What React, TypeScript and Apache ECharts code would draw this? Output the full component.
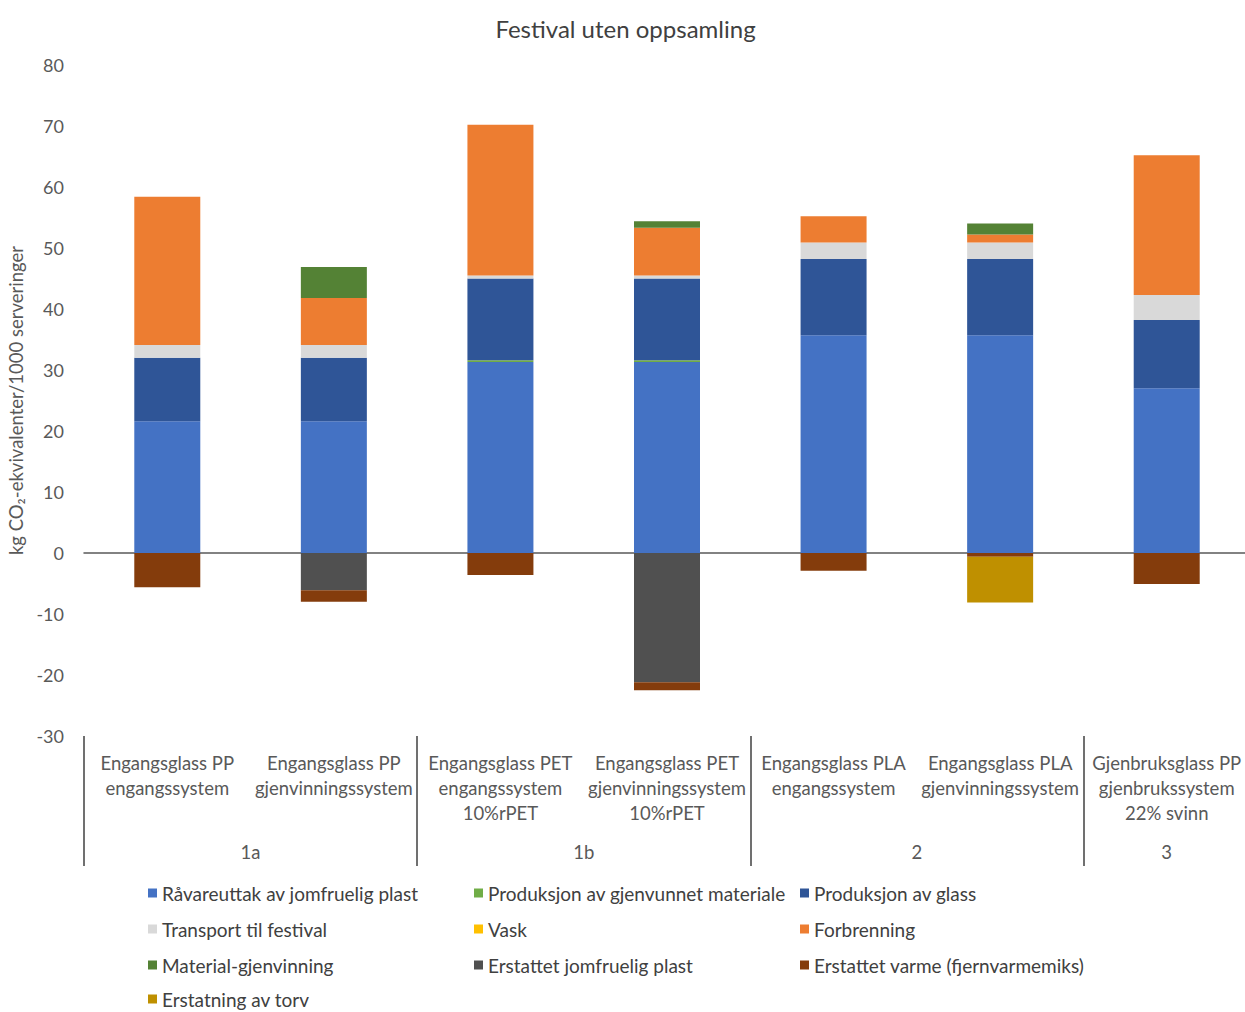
import React, { useEffect, useRef } from "react";
import * as echarts from "echarts";

// Scenario columns (x categories)
const categories = [
  "Engangsglass PP\nengangssystem",
  "Engangsglass PP\ngjenvinningssystem",
  "Engangsglass PET\nengangssystem\n10%rPET",
  "Engangsglass PET\ngjenvinningssystem\n10%rPET",
  "Engangsglass PLA\nengangssystem",
  "Engangsglass PLA\ngjenvinningssystem",
  "Gjenbruksglass PP\ngjenbrukssystem\n22% svinn",
];

// Scenario groups: label position (in category units) and separators
const groupLabels = ["1a", "1b", "2", "3"];
const groupCenters = [1, 3, 5, 6.5];
const groupSeparators = [0, 2, 4, 6];

// y-axis ticks
const yTicks = [-30, -20, -10, 0, 10, 20, 30, 40, 50, 60, 70, 80];

// Contributions, kg CO2-ekv. per 1000 serveringer
const raavareuttak = [21.6, 21.6, 31.3, 31.3, 35.7, 35.7, 27.0];
const produksjonGjenvunnet = [0, 0, 0.3, 0.3, 0, 0, 0];
const produksjonGlass = [10.4, 10.4, 13.4, 13.4, 12.5, 12.5, 11.2];
const transport = [2.1, 2.1, 0.5, 0.5, 2.7, 2.7, 4.1];
const vask = [0, 0, 0, 0, 0, 0, 0];
const forbrenning = [24.3, 7.7, 24.7, 7.8, 4.3, 1.3, 22.9];
const materialGjenvinning = [0, 5.1, 0, 1.1, 0, 1.8, 0];
const erstattetPlast = [0, -6.1, 0, -21.2, 0, 0, 0];
const erstattetVarme = [-5.6, -1.9, -3.6, -1.3, -2.9, -0.6, -5.1];
const erstatningTorv = [0, 0, 0, 0, 0, -7.5, 0];

const FONT = "Lato, 'Open Sans', sans-serif";
const TEXT = "#595959";

const seriesDefs = [
  { name: "Råvareuttak av jomfruelig plast", data: raavareuttak, color: "#4472C4" },
  { name: "Produksjon av gjenvunnet materiale", data: produksjonGjenvunnet, color: "#70AD47" },
  { name: "Produksjon av glass", data: produksjonGlass, color: "#2F5597" },
  { name: "Transport til festival", data: transport, color: "#D9D9D9" },
  { name: "Vask", data: vask, color: "#FFC000" },
  { name: "Forbrenning", data: forbrenning, color: "#ED7D31" },
  { name: "Material-gjenvinning", data: materialGjenvinning, color: "#548235" },
  { name: "Erstattet jomfruelig plast", data: erstattetPlast, color: "#505050" },
  { name: "Erstattet varme (fjernvarmemiks)", data: erstattetVarme, color: "#843C0C" },
  { name: "Erstatning av torv", data: erstatningTorv, color: "#BF9000" },
];

// Legend blocks: three columns plus the last row near the bottom edge
const legendBlocks = [
  { left: 143, top: 878, items: [0, 3, 6] },
  { left: 469, top: 878, items: [1, 4, 7] },
  { left: 795, top: 878, items: [2, 5, 8] },
  { left: 143, top: 984, items: [9] },
];

export default function App() {
  const ref = useRef<HTMLDivElement>(null);

  useEffect(() => {
    if (!ref.current) return;
    const chart = echarts.init(ref.current, undefined, { renderer: "svg" });

    const legendText = { fontFamily: FONT, fontSize: 19, color: "#404040", lineHeight: 20 };

    chart.setOption({
      animation: false,
      backgroundColor: "#ffffff",
      textStyle: { fontFamily: FONT },
      title: {
        text: "Festival uten oppsamling",
        left: "center",
        top: 11,
        textStyle: { fontFamily: FONT, fontSize: 24, fontWeight: "normal", color: "#404040" },
      },
      grid: {
        left: 84,
        top: 65,
        width: 1166,
        height: 671,
        containLabel: false,
        outerBoundsMode: "none",
      },
      legend: legendBlocks.map((b) => ({
        orient: "vertical",
        left: b.left,
        top: b.top,
        height: 200,
        itemWidth: 9,
        itemHeight: 9,
        itemGap: 16,
        icon: "rect",
        textStyle: legendText,
        data: b.items.map((i) => seriesDefs[i].name),
      })),
      xAxis: [
        {
          type: "category",
          data: categories,
          axisLine: { show: true, onZero: true, lineStyle: { color: "#595959", width: 1.5 } },
          axisTick: { show: false },
          axisLabel: { show: false },
          splitLine: { show: false },
        },
        {
          type: "category",
          data: categories,
          position: "bottom",
          axisLine: { show: false, onZero: false },
          axisTick: { show: false },
          axisLabel: {
            interval: 0,
            hideOverlap: false,
            margin: 14,
            fontFamily: FONT,
            fontSize: 18.5,
            lineHeight: 25,
            color: TEXT,
          },
          splitLine: { show: false },
        },
        {
          type: "value",
          min: 0,
          max: 7,
          position: "bottom",
          axisLine: { show: false, onZero: false },
          axisTick: {
            show: true,
            customValues: groupSeparators,
            length: 130,
            lineStyle: { color: "#404040", width: 1.5 },
          },
          axisLabel: {
            customValues: groupCenters,
            margin: 106,
            fontFamily: FONT,
            fontSize: 18.5,
            color: TEXT,
            formatter: (v: number) => {
              const i = groupCenters.indexOf(v);
              return i >= 0 ? groupLabels[i] : "";
            },
          },
          splitLine: { show: false },
        },
      ],
      yAxis: {
        type: "value",
        min: yTicks[0],
        max: yTicks[yTicks.length - 1],
        interval: 10,
        name: "kg CO₂-ekvivalenter/1000 serveringer",
        nameLocation: "middle",
        nameGap: 57,
        nameRotate: 90,
        nameTextStyle: { fontFamily: FONT, fontSize: 18.5, color: TEXT },
        axisLine: { show: false },
        axisTick: { show: false },
        splitLine: { show: false },
        axisLabel: { margin: 20, fontFamily: FONT, fontSize: 18, color: TEXT },
      },
      series: seriesDefs.map((s) => ({
        name: s.name,
        type: "bar",
        stack: "total",
        xAxisIndex: 0,
        barWidth: 66,
        data: s.data,
        itemStyle: { color: s.color },
        emphasis: { disabled: true },
      })),
    });

    return () => chart.dispose();
  }, []);

  // The canvas runs a few pixels past the right edge so the last column is cut like a wide sheet
  return (
    <div
      ref={ref}
      style={{ position: "fixed", left: 0, top: 0, width: 1251, height: 1012, background: "#fff" }}
    />
  );
}
